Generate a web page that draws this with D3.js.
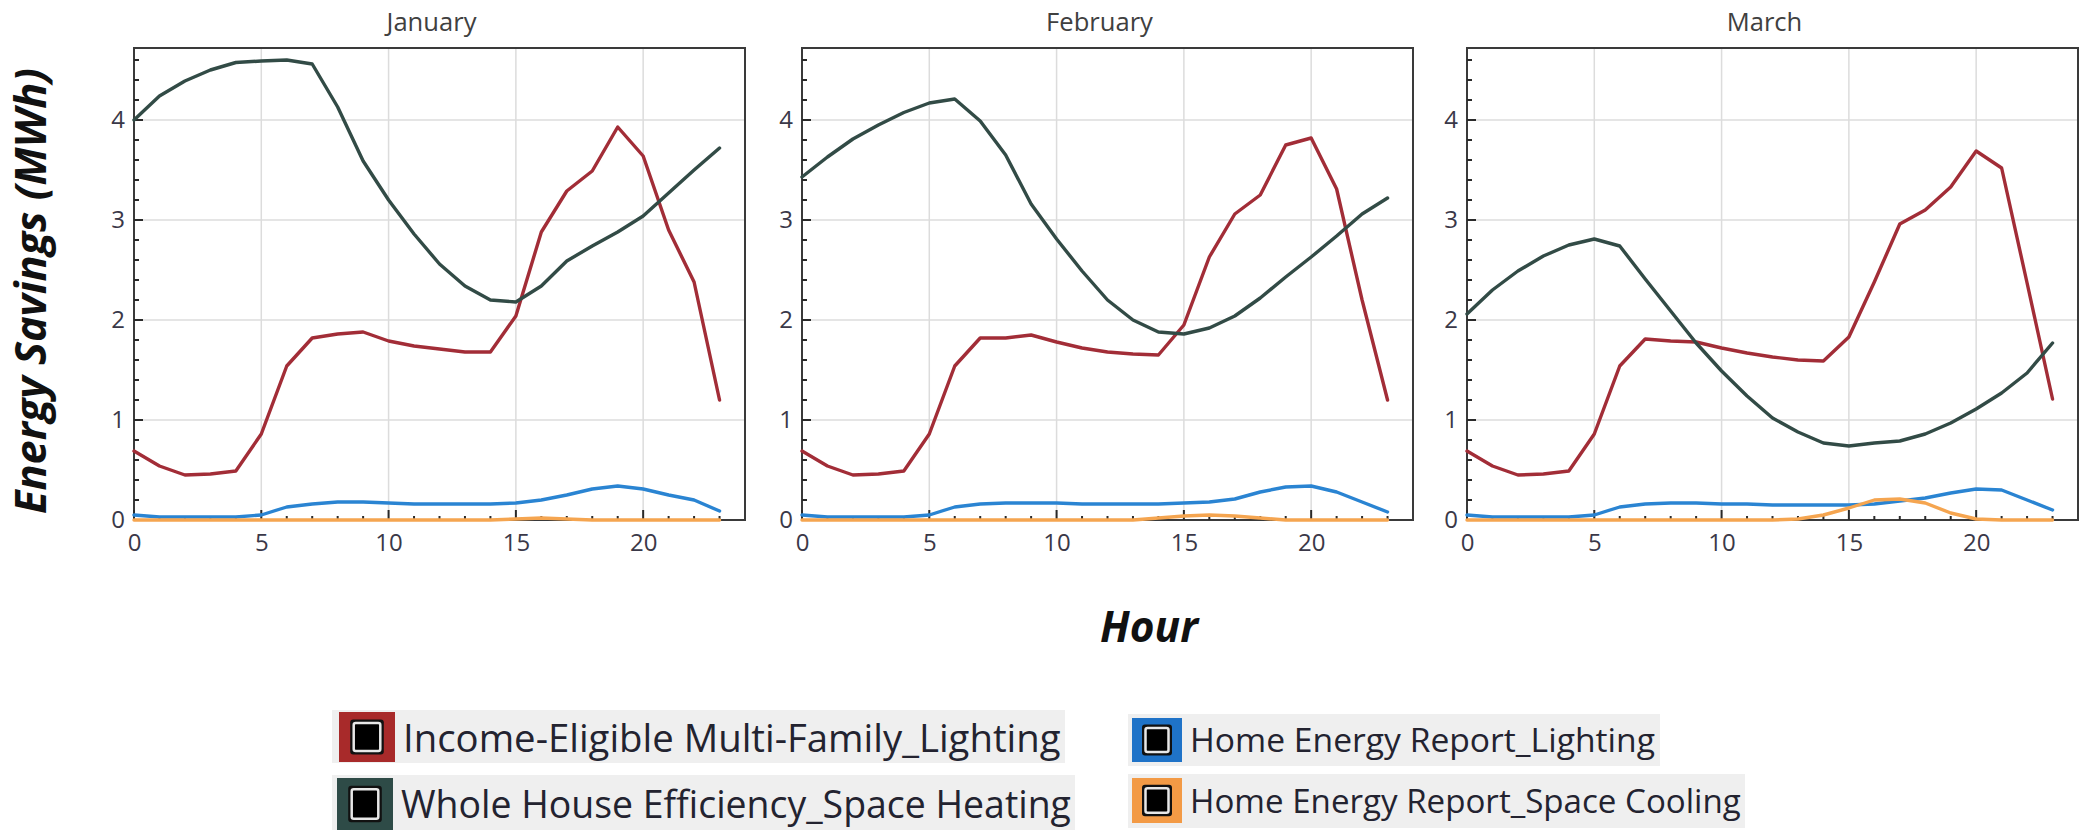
<!DOCTYPE html>
<html>
<head>
<meta charset="utf-8">
<script src="https://cdn.jsdelivr.net/npm/d3@7/dist/d3.min.js"></script>
<style>
  html, body { margin: 0; padding: 0; background: #ffffff; }
  svg { display: block; }
</style>
</head>
<body>
<svg id="chart" width="2079" height="830"></svg>
<script>
// ---------------- DATA ----------------
const hours = [0,1,2,3,4,5,6,7,8,9,10,11,12,13,14,15,16,17,18,19,20,21,22,23];
const months = ["January", "February", "March"];
const seriesNames = [
  "Income-Eligible Multi-Family_Lighting",
  "Whole House Efficiency_Space Heating",
  "Home Energy Report_Lighting",
  "Home Energy Report_Space Cooling"
];
const yTickValues = [0, 1, 2, 3, 4];
const xTickValues = [0, 5, 10, 15, 20];

// January
const janIncomeLighting = [0.69,0.54,0.45,0.46,0.49,0.86,1.54,1.82,1.86,1.88,1.79,1.74,1.71,1.68,1.68,2.04,2.88,3.29,3.49,3.93,3.64,2.90,2.38,1.20];
const janWholeHouseHeating = [4.00,4.24,4.39,4.50,4.575,4.59,4.60,4.56,4.13,3.59,3.20,2.86,2.56,2.34,2.20,2.18,2.34,2.59,2.74,2.88,3.04,3.27,3.50,3.72];
const janHERLighting = [0.05,0.03,0.03,0.03,0.03,0.05,0.13,0.16,0.18,0.18,0.17,0.16,0.16,0.16,0.16,0.17,0.20,0.25,0.31,0.34,0.31,0.25,0.20,0.09];
const janHERCooling = [0,0,0,0,0,0,0,0,0,0,0,0,0,0,0,0.01,0.02,0.01,0,0,0,0,0,0];

// February
const febIncomeLighting = [0.69,0.54,0.45,0.46,0.49,0.86,1.54,1.82,1.82,1.85,1.78,1.72,1.68,1.66,1.65,1.95,2.63,3.06,3.25,3.75,3.82,3.31,2.20,1.20];
const febWholeHouseHeating = [3.43,3.63,3.81,3.95,4.075,4.17,4.21,3.99,3.65,3.16,2.81,2.49,2.20,2.00,1.88,1.86,1.92,2.04,2.22,2.43,2.63,2.84,3.06,3.22];
const febHERLighting = [0.05,0.03,0.03,0.03,0.03,0.05,0.13,0.16,0.17,0.17,0.17,0.16,0.16,0.16,0.16,0.17,0.18,0.21,0.28,0.33,0.34,0.28,0.18,0.08];
const febHERCooling = [0,0,0,0,0,0,0,0,0,0,0,0,0,0,0.02,0.04,0.05,0.04,0.02,0,0,0,0,0];

// March
const marIncomeLighting = [0.69,0.54,0.45,0.46,0.49,0.86,1.54,1.81,1.79,1.78,1.72,1.67,1.63,1.60,1.59,1.83,2.38,2.96,3.10,3.33,3.69,3.52,2.37,1.21];
const marWholeHouseHeating = [2.06,2.30,2.49,2.64,2.75,2.81,2.74,2.41,2.09,1.77,1.49,1.24,1.02,0.88,0.77,0.74,0.77,0.79,0.86,0.97,1.11,1.27,1.47,1.77];
const marHERLighting = [0.05,0.03,0.03,0.03,0.03,0.05,0.13,0.16,0.17,0.17,0.16,0.16,0.15,0.15,0.15,0.15,0.16,0.19,0.22,0.27,0.31,0.30,0.20,0.10];
const marHERCooling = [0,0,0,0,0,0,0,0,0,0,0,0,0,0.01,0.05,0.12,0.20,0.21,0.17,0.07,0.01,0,0,0];

// ---------------- STYLE / LAYOUT ----------------
const lineColors = ["#a22d37", "#324b46", "#2a84d2", "#f5a550"];
const boxColors  = ["#a82a2a", "#2e4b47", "#1f73c8", "#f39a45"];
const FONT = "'Open Sans', 'Noto Sans', sans-serif";

const panelData = [
  [janIncomeLighting, janWholeHouseHeating, janHERLighting, janHERCooling],
  [febIncomeLighting, febWholeHouseHeating, febHERLighting, febHERCooling],
  [marIncomeLighting, marWholeHouseHeating, marHERLighting, marHERCooling]
];
const panelLeft = [134, 802, 1467];
const panelWidth = 611;
const plotTop = 48, plotBottom = 520;

const svg = d3.select("#chart");

function fitWidth(sel, target) {
  const w = sel.node().getComputedTextLength();
  const fs = parseFloat(sel.attr("font-size"));
  sel.attr("font-size", (fs * target / w).toFixed(2));
}

months.forEach((m, i) => {
  const x = d3.scaleLinear().domain([0, 24]).range([panelLeft[i], panelLeft[i] + panelWidth]);
  const y = d3.scaleLinear().domain([0, 4.72]).range([plotBottom, plotTop]);
  const g = svg.append("g");

  // gridlines
  g.selectAll(".vg").data(xTickValues.filter(v => v > 0)).enter().append("line")
    .attr("x1", d => x(d)).attr("x2", d => x(d))
    .attr("y1", plotTop).attr("y2", plotBottom)
    .attr("stroke", "#dcdcdc").attr("stroke-width", 1.5);
  g.selectAll(".hg").data(yTickValues.filter(v => v > 0)).enter().append("line")
    .attr("x1", x(0)).attr("x2", x(24))
    .attr("y1", d => y(d)).attr("y2", d => y(d))
    .attr("stroke", "#dcdcdc").attr("stroke-width", 1.5);

  // frame
  g.append("rect")
    .attr("x", x(0)).attr("y", plotTop)
    .attr("width", x(24) - x(0)).attr("height", plotBottom - plotTop)
    .attr("fill", "none").attr("stroke", "#3a3a3a").attr("stroke-width", 2);

  // x axis (ticks inward)
  const xAxis = d3.axisBottom(x).tickValues(xTickValues).tickSize(0).tickPadding(14)
    .tickFormat(d3.format("d"));
  const xg = g.append("g").attr("transform", `translate(0,${plotBottom})`).call(xAxis);
  xg.select(".domain").remove();
  xg.selectAll("text").attr("font-family", FONT).attr("font-size", 24).attr("fill", "#3a3848");
  g.selectAll(".xt").data(hours).enter().append("line")
    .attr("x1", d => x(d)).attr("x2", d => x(d))
    .attr("y1", plotBottom).attr("y2", d => plotBottom - (d % 5 === 0 ? 10 : 4))
    .attr("stroke", "#2a2a2a").attr("stroke-width", 2);

  // y axis
  const yAxis = d3.axisLeft(y).tickValues(yTickValues).tickSize(0).tickPadding(9)
    .tickFormat(d3.format("d"));
  const yg = g.append("g").attr("transform", `translate(${x(0)},0)`).call(yAxis);
  yg.select(".domain").remove();
  yg.selectAll("text").attr("font-family", FONT).attr("font-size", 24).attr("fill", "#3a3848");
  const yMinor = d3.range(0, 24).map(k => k * 0.2).filter(v => v <= 4.7);
  g.selectAll(".yt").data(yMinor).enter().append("line")
    .attr("x1", x(0)).attr("x2", d => x(0) + (Math.abs(d - Math.round(d)) < 1e-6 ? 9 : 5))
    .attr("y1", d => y(d)).attr("y2", d => y(d))
    .attr("stroke", "#2a2a2a").attr("stroke-width", 2);

  // title
  g.append("text")
    .attr("class", "ptitle")
    .attr("x", (x(0) + x(24)) / 2 - 8).attr("y", 31)
    .attr("text-anchor", "middle")
    .attr("font-family", FONT).attr("font-size", 20).attr("fill", "#404040")
    .text(m);

  // lines
  const line = d3.line().x((d, k) => x(hours[k])).y(d => y(d));
  panelData[i].forEach((vals, s) => {
    g.append("path").datum(vals)
      .attr("d", line)
      .attr("fill", "none")
      .attr("stroke", lineColors[s])
      .attr("stroke-width", 3.4)
      .attr("stroke-linejoin", "round")
      .attr("stroke-linecap", "round");
  });
});

// axis titles
const yTitle = svg.append("text")
  .attr("transform", "translate(46,291) rotate(-90)")
  .attr("text-anchor", "middle")
  .attr("font-family", FONT).attr("font-size", 38)
  .attr("font-weight", "bold").attr("font-style", "italic").attr("fill", "#111")
  .text("Energy Savings (MWh)");
fitWidth(yTitle, 446);

const xTitle = svg.append("text")
  .attr("x", 1149).attr("y", 642)
  .attr("text-anchor", "middle")
  .attr("font-family", FONT).attr("font-size", 38)
  .attr("font-weight", "bold").attr("font-style", "italic").attr("fill", "#111")
  .text("Hour");
fitWidth(xTitle, 98);

// legend
const legendItems = [
  { s: 0, bx: 332, by: 710, bw: 733, bh: 53, sx: 339, sy: 712, sw: 56, sh: 50, tx: 403, ty: 752, tw: 658 },
  { s: 1, bx: 332, by: 775, bw: 743, bh: 55, sx: 337, sy: 778, sw: 56, sh: 52, tx: 401, ty: 818, tw: 670 },
  { s: 2, bx: 1128, by: 714, bw: 532, bh: 52, sx: 1132, sy: 718, sw: 50, sh: 44, tx: 1190, ty: 752, tw: 465 },
  { s: 3, bx: 1128, by: 774, bw: 617, bh: 54, sx: 1132, sy: 778, sw: 50, sh: 45, tx: 1190, ty: 813, tw: 551 }
];
const lg = svg.append("g");
legendItems.forEach(it => {
  lg.append("rect").attr("x", it.bx).attr("y", it.by).attr("width", it.bw).attr("height", it.bh)
    .attr("fill", "#efefef");
  lg.append("rect").attr("x", it.sx).attr("y", it.sy).attr("width", it.sw).attr("height", it.sh)
    .attr("fill", boxColors[it.s]);
  const iw = it.sw * 0.6, ih = it.sh * 0.7;
  const ix = it.sx + (it.sw - iw) / 2, iy = it.sy + (it.sh - ih) / 2;
  lg.append("rect").attr("x", ix).attr("y", iy).attr("width", iw).attr("height", ih)
    .attr("rx", 3).attr("fill", "#111");
  lg.append("rect").attr("x", ix + 3.5).attr("y", iy + 3.5).attr("width", iw - 7).attr("height", ih - 7)
    .attr("rx", 2).attr("fill", "#000").attr("stroke", "#e8e8e8").attr("stroke-width", 2.5);
  const t = lg.append("text").attr("x", it.tx).attr("y", it.ty)
    .attr("font-family", FONT).attr("font-size", 36).attr("fill", "#232330")
    .text(seriesNames[it.s]);
  fitWidth(t, it.tw);
});

// fit panel titles to reference width of "January"
const titles = svg.selectAll("text.ptitle");
const jan = titles.filter(function() { return this.textContent === "January"; });
const w0 = jan.node().getComputedTextLength();
titles.attr("font-size", (20 * 90 / w0).toFixed(2));
</script>
</body>
</html>
